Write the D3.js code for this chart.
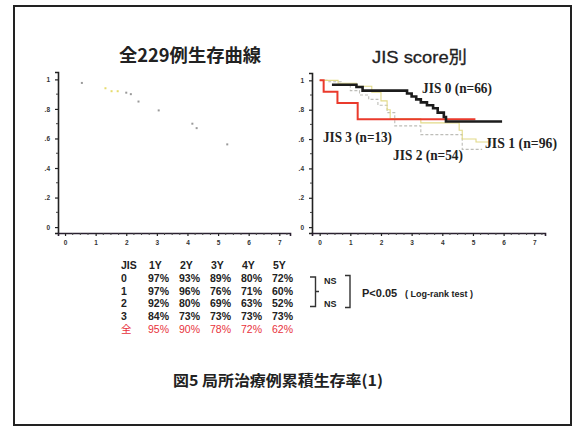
<!DOCTYPE html>
<html>
<head>
<meta charset="utf-8">
<script src="https://cdn.jsdelivr.net/npm/d3@7/dist/d3.min.js"></script>
<style>
  body { margin: 0; background: #fff; }
  svg { display: block; }
</style>
</head>
<body>
<div id="chart"></div>
<script>
// survival table (percent)
const years = ["1Y", "2Y", "3Y", "4Y", "5Y"];
const groups = ["0", "1", "2", "3", "全"];
const rates = [
    [97, 93, 89, 80, 72],
    [97, 96, 76, 71, 60],
    [92, 80, 69, 63, 52],
    [84, 73, 73, 73, 73],
    [95, 90, 78, 72, 62]
];

// y tick labels
const yTicks = [0, 0.2, 0.4, 0.6, 0.8, 1];
const yTickLabels = ["0", ".2", ".4", ".6", ".8", "1"];
const xTicks = [0, 1, 2, 3, 4, 5, 6, 7];

// left chart: faint censor marks [year, survival]
const allMarks = [[0.55, 0.976], [1.32, 0.94], [1.52, 0.92], [1.72, 0.92], [2.0, 0.91], [2.15, 0.90],
    [2.4, 0.85], [3.06, 0.79], [4.16, 0.70], [4.3, 0.67], [5.3, 0.56]];
const allMarkYellow = [false, true, true, true, false, false, false, false, false, false, false];

// right chart: step curves [year, survival], last point = end of follow-up
const jis0 = [[0.4, 0.97], [1.2, 0.955], [1.4, 0.93], [2.85, 0.91], [3.0, 0.89], [3.15, 0.87],
    [3.3, 0.85], [3.5, 0.83], [3.7, 0.81], [3.85, 0.78], [4.05, 0.75], [4.12, 0.72], [5.95, 0.72]];
const jis1 = [[0, 1], [0.6, 0.98], [1.2, 0.96], [1.7, 0.92], [2.0, 0.86], [2.2, 0.80], [2.3, 0.74],
    [3.3, 0.71], [4.55, 0.66], [4.65, 0.60], [5.1, 0.58], [5.6, 0.58]];
const jis2 = [[0, 1], [0.3, 0.99], [0.7, 0.97], [1.0, 0.93], [1.3, 0.90], [1.6, 0.87], [1.9, 0.83],
    [2.2, 0.78], [2.45, 0.69], [3.3, 0.63], [4.65, 0.53], [5.3, 0.53]];
const jis3 = [[0, 1], [0.13, 0.923], [0.58, 0.846], [1.24, 0.735], [5.08, 0.735]];

const curves = [
    {name: "JIS 2 (n=54)", data: jis2, color: "#bdbdb8", width: 1.1, dash: "3,2"},
    {name: "JIS 1 (n=96)", data: jis1, color: "#e2da88", width: 1.1, dash: null},
    {name: "JIS 3 (n=13)", data: jis3, color: "#ea3a2c", width: 2, dash: null},
    {name: "JIS 0 (n=66)", data: jis0, color: "#1c1c1c", width: 2.6, dash: null}
];
const curveLabels = [
    {text: "JIS 0 (n=66)", x: 422, y: 93, w: 70},
    {text: "JIS 3 (n=13)", x: 323, y: 142, w: 69},
    {text: "JIS 2 (n=54)", x: 393, y: 160, w: 70},
    {text: "JIS 1 (n=96)", x: 485, y: 148, w: 72}
];

const W = 577, H = 428;
const svg = d3.select("#chart").append("svg")
    .attr("width", W)
    .attr("height", H);

svg.append("rect")
    .attr("x", 14).attr("y", 6)
    .attr("width", 557).attr("height", 419)
    .attr("fill", "#fff")
    .attr("stroke", "#222")
    .attr("stroke-width", 2);

function drawAxes(g, x, y) {
    // y axis
    const yAxis = d3.axisLeft(y).tickValues(yTicks).tickSize(3)
        .tickFormat((d, i) => yTickLabels[i]);
    const ga = g.append("g")
        .attr("transform", "translate(" + x.range()[0] + ",0)")
        .call(yAxis);
    ga.select(".domain").attr("stroke", "#222").attr("stroke-width", 1.6);
    ga.selectAll(".tick line").attr("stroke", "#222").attr("stroke-width", 1.2);
    ga.selectAll(".tick text").attr("font-size", 6.5).attr("font-weight", "bold")
        .attr("fill", "#333").attr("font-family", "Liberation Sans, Arial").attr("dx", -2);
    g.append("g").selectAll("line")
        .data(d3.range(0.1, 1.0, 0.2))
        .join("line")
        .attr("x1", x.range()[0] - 2).attr("x2", x.range()[0])
        .attr("y1", d => y(d)).attr("y2", d => y(d))
        .attr("stroke", "#444");

    // x axis
    const xAxis = d3.axisBottom(x).tickValues(xTicks).tickSize(3).tickFormat(d3.format("d"));
    const gx = g.append("g")
        .attr("transform", "translate(0," + y.range()[0] + ")")
        .call(xAxis);
    gx.select(".domain").attr("stroke", "#2a2030").attr("stroke-width", 1.6);
    gx.selectAll(".tick line").attr("stroke", "#222").attr("stroke-width", 1.2);
    gx.selectAll(".tick text").attr("font-size", 6.5).attr("font-weight", "bold")
        .attr("fill", "#333").attr("font-family", "Liberation Sans, Arial").attr("dy", 6);
    g.append("g").selectAll("line")
        .data(d3.range(0.25, 7.3, 0.25).filter(d => Math.abs(d - Math.round(d)) > 0.01))
        .join("line")
        .attr("x1", d => x(d)).attr("x2", d => x(d))
        .attr("y1", y.range()[0]).attr("y2", y.range()[0] + 2)
        .attr("stroke", "#444");
}

// left chart
const xL = d3.scaleLinear().domain([-0.23, 7.35]).range([58, 290]);
const yL = d3.scaleLinear().domain([-0.04, 1.05]).range([233, 72]);
const gL = svg.append("g");
drawAxes(gL, xL, yL);

gL.selectAll(".mark")
    .data(allMarks)
    .join("rect")
    .attr("class", "mark")
    .attr("x", d => xL(d[0]) - 1)
    .attr("y", d => yL(d[1]) - 1)
    .attr("width", 2).attr("height", 2)
    .attr("fill", (d, i) => allMarkYellow[i] ? "#e6dc6e" : "#9a9a9a");

svg.append("text")
    .attr("x", 119).attr("y", 62)
    .attr("textLength", 142).attr("lengthAdjust", "spacingAndGlyphs")
    .attr("font-family", "Noto Sans CJK JP, Liberation Sans")
    .attr("font-weight", "bold").attr("font-size", 18)
    .attr("fill", "#222")
    .text("全229例生存曲線");

// right chart
const xR = d3.scaleLinear().domain([-0.25, 7.35]).range([312, 545]);
const yR = d3.scaleLinear().domain([-0.04, 1.05]).range([233, 73]);
const gR = svg.append("g");
drawAxes(gR, xR, yR);

const line = d3.line()
    .x(d => xR(d[0]))
    .y(d => yR(d[1]))
    .curve(d3.curveStepAfter);

gR.selectAll(".curve")
    .data(curves)
    .join("path")
    .attr("class", "curve")
    .attr("d", d => line(d.data))
    .attr("fill", "none")
    .attr("stroke", d => d.color)
    .attr("stroke-width", d => d.width)
    .attr("stroke-dasharray", d => d.dash);

gR.selectAll(".clabel")
    .data(curveLabels)
    .join("text")
    .attr("class", "clabel")
    .attr("x", d => d.x).attr("y", d => d.y)
    .attr("textLength", d => d.w).attr("lengthAdjust", "spacingAndGlyphs")
    .attr("font-family", "Liberation Serif, Times New Roman")
    .attr("font-weight", "bold").attr("font-size", 15)
    .attr("fill", "#222")
    .text(d => d.text);

svg.append("text")
    .attr("x", 372).attr("y", 63)
    .attr("textLength", 95).attr("lengthAdjust", "spacingAndGlyphs")
    .attr("font-family", "Liberation Sans, Noto Sans CJK JP")
    .attr("font-size", 17)
    .attr("stroke", "#222").attr("stroke-width", 0.3)
    .attr("fill", "#222")
    .text("JIS score別");

// table
const colX = d3.scalePoint().domain(years).range([148, 272]);
const rowY = d3.scalePoint().domain(["JIS"].concat(groups)).range([269, 333]);
const tbl = svg.append("g")
    .attr("font-family", "Liberation Sans, Noto Sans CJK JP")
    .attr("font-weight", "bold")
    .attr("font-size", 10.5);

tbl.append("text").attr("x", 121).attr("y", rowY("JIS")).attr("fill", "#222").text("JIS");
tbl.selectAll(".yr")
    .data(years)
    .join("text")
    .attr("x", d => colX(d) + 1).attr("y", rowY("JIS"))
    .attr("fill", "#222")
    .text(d => d);

groups.forEach((gname, gi) => {
    const col = gname === "全" ? "#e8323c" : "#222";
    tbl.append("text")
        .attr("x", 121).attr("y", rowY(gname))
        .attr("fill", col)
        .attr("font-weight", gname === "全" ? "normal" : "bold")
        .text(gname);
    tbl.selectAll(".r" + gi)
        .data(rates[gi])
        .join("text")
        .attr("x", (d, i) => colX(years[i]))
        .attr("y", rowY(gname))
        .attr("fill", col)
        .attr("font-weight", gname === "全" ? "normal" : "bold")
        .text(d => d + "%");
});

// significance brackets
const sig = svg.append("g").attr("fill", "none").attr("stroke", "#333").attr("stroke-width", 1.4);
sig.append("path").attr("d", "M310,277 H315.5 V306.5 H310 M315.5,291.5 H319");
sig.append("path").attr("d", "M345,275.5 H350 V307.5 H345");

const sigText = svg.append("g")
    .attr("font-family", "Liberation Sans, Arial")
    .attr("font-weight", "bold")
    .attr("fill", "#222");
sigText.append("text").attr("x", 324).attr("y", 284).attr("font-size", 9).text("NS");
sigText.append("text").attr("x", 324).attr("y", 307).attr("font-size", 9).text("NS");
sigText.append("text").attr("x", 362).attr("y", 297).attr("font-size", 11).text("P<0.05");
sigText.append("text").attr("x", 405).attr("y", 297).attr("font-size", 9).text("( Log-rank test )");

// caption
svg.append("text")
    .attr("x", 173).attr("y", 386)
    .attr("textLength", 210).attr("lengthAdjust", "spacingAndGlyphs")
    .attr("font-family", "Noto Sans CJK JP, Liberation Sans")
    .attr("font-weight", "bold").attr("font-size", 15)
    .attr("fill", "#222")
    .text("図5 局所治療例累積生存率(1)");
</script>
</body>
</html>
